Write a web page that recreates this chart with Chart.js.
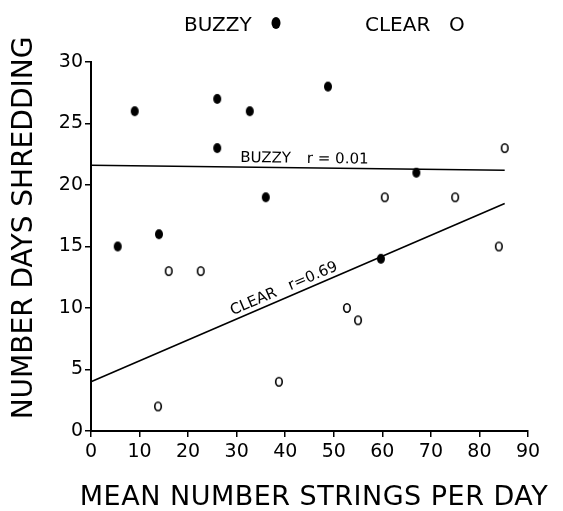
<!DOCTYPE html>
<html>
<head>
<meta charset="utf-8">
<script src="https://cdn.jsdelivr.net/npm/chart.js@4.4.1/dist/chart.umd.min.js"></script>
<style>
  html, body { margin: 0; padding: 0; background: #fff; }
  #wrap { width: 563px; height: 511px; position: relative; }
</style>
</head>
<body>
<div id="wrap"><canvas id="chart"></canvas></div>
<script>
// Buzzy birds (filled dots)
const buzzyX = [5.5, 9, 14, 26, 26, 32.7, 36, 48.8, 59.7, 67];
const buzzyY = [15, 26, 16, 27, 23, 26, 19, 28, 14, 21];

// Clear birds (open circles)
const clearX = [13.8, 16, 22.6, 38.7, 52.7, 55, 60.5, 75, 84, 85.2];
const clearY = [2, 13, 13, 4, 10, 9, 19, 19, 15, 23];

// Regression lines, end points
const fitX = [0, 85.2];
const buzzyFitY = [21.6, 21.2];
const clearFitY = [4.0, 18.5];

const buzzyLabel = ['BUZZY', 'r = 0.01'];
const clearLabel = ['CLEAR', 'r=0.69'];

const xTitle = 'MEAN NUMBER STRINGS PER DAY';
const yTitle = 'NUMBER DAYS SHREDDING';

const font = "'DejaVu Sans', sans-serif";

function zip(xs, ys) {
  return xs.map((x, i) => ({ x: x, y: ys[i] }));
}

// small oval marks, a bit taller than wide like the hand drawn ones
function ovalSprite(w, h, filled) {
  const c = document.createElement('canvas');
  c.width = w + 4;
  c.height = h + 4;
  const g = c.getContext('2d');
  g.beginPath();
  g.ellipse(c.width / 2, c.height / 2, w / 2, h / 2, 0, 0, Math.PI * 2);
  if (filled) {
    g.fillStyle = '#000';
    g.fill();
  } else {
    g.lineWidth = 1.6;
    g.strokeStyle = '#000';
    g.stroke();
  }
  return c;
}

// text sitting along a fitted line
function fitLabel(ctx, xs, ys, fitY, parts, startX, gap, spacer) {
  const px0 = xs.getPixelForValue(fitX[0]);
  const py0 = ys.getPixelForValue(fitY[0]);
  const px1 = xs.getPixelForValue(fitX[1]);
  const py1 = ys.getPixelForValue(fitY[1]);
  const ang = Math.atan2(py1 - py0, px1 - px0);
  const t = (startX - fitX[0]) / (fitX[1] - fitX[0]);
  const sx = xs.getPixelForValue(startX);
  const sy = py0 + (py1 - py0) * t;
  ctx.save();
  ctx.translate(sx, sy);
  ctx.rotate(ang);
  ctx.fillText(parts[0], 0, -gap);
  const w = ctx.measureText(parts[0]).width;
  ctx.fillText(parts[1], w + spacer, -gap);
  ctx.restore();
}

const textPlugin = {
  id: 'texts',
  afterDraw(chart) {
    const ctx = chart.ctx;
    const xs = chart.scales.x;
    const ys = chart.scales.y;
    ctx.save();
    ctx.fillStyle = '#000';
    ctx.textBaseline = 'alphabetic';

    // legend line at the top
    ctx.font = '20px ' + font;
    ctx.textAlign = 'left';
    ctx.fillText('BUZZY', 184, 31);
    ctx.beginPath();
    ctx.ellipse(276, 23, 4.5, 6, 0, 0, Math.PI * 2);
    ctx.fill();
    ctx.fillText('CLEAR', 365, 31);
    ctx.fillText('O', 449, 31);

    // labels on the regression lines
    ctx.font = '15px ' + font;
    fitLabel(ctx, xs, ys, buzzyFitY, buzzyLabel, 30.7, 5, 16);
    fitLabel(ctx, xs, ys, clearFitY, clearLabel, 29.6, 5, 14);

    // axis titles
    ctx.font = '27px ' + font;
    ctx.textAlign = 'center';
    ctx.letterSpacing = '0.5px';
    ctx.fillText(xTitle, 314, 505);
    ctx.letterSpacing = '0px';
    ctx.font = '28px ' + font;
    ctx.save();
    ctx.translate(32, 228);
    ctx.rotate(-Math.PI / 2);
    ctx.fillText(yTitle, 0, 0);
    ctx.restore();

    ctx.restore();
  }
};

const tickFont = { family: font, size: 19 };

new Chart(document.getElementById('chart'), {
  type: 'scatter',
  data: {
    datasets: [
      {
        label: 'Buzzy',
        data: zip(buzzyX, buzzyY),
        pointStyle: ovalSprite(8, 10, true),
        pointRadius: 5
      },
      {
        label: 'Clear',
        data: zip(clearX, clearY),
        pointStyle: ovalSprite(6.5, 8.5, false),
        pointRadius: 5
      },
      {
        label: 'Buzzy fit',
        data: zip(fitX, buzzyFitY),
        showLine: true,
        borderColor: '#000',
        borderWidth: 1.6,
        pointRadius: 0
      },
      {
        label: 'Clear fit',
        data: zip(fitX, clearFitY),
        showLine: true,
        borderColor: '#000',
        borderWidth: 1.6,
        pointRadius: 0
      }
    ]
  },
  options: {
    responsive: true,
    maintainAspectRatio: false,
    animation: false,
    clip: false,
    layout: { padding: { left: 0, top: 62, right: 35, bottom: 0 } },
    plugins: {
      legend: { display: false },
      tooltip: { enabled: false }
    },
    scales: {
      x: {
        type: 'linear',
        min: 0,
        max: 90,
        afterFit(scale) { scale.height = 80; },
        ticks: { stepSize: 10, color: '#000', font: tickFont, padding: 4, maxRotation: 0 },
        grid: { drawOnChartArea: false, tickLength: 6, tickColor: '#000', lineWidth: 1.5 },
        border: { color: '#000', width: 2 }
      },
      y: {
        type: 'linear',
        min: 0,
        max: 30,
        afterFit(scale) { scale.width = 91; },
        ticks: { stepSize: 5, color: '#000', font: tickFont, padding: 2 },
        grid: { drawOnChartArea: false, tickLength: 6, tickColor: '#000', lineWidth: 1.5 },
        border: { color: '#000', width: 2 }
      }
    }
  },
  plugins: [textPlugin]
});
</script>
</body>
</html>
